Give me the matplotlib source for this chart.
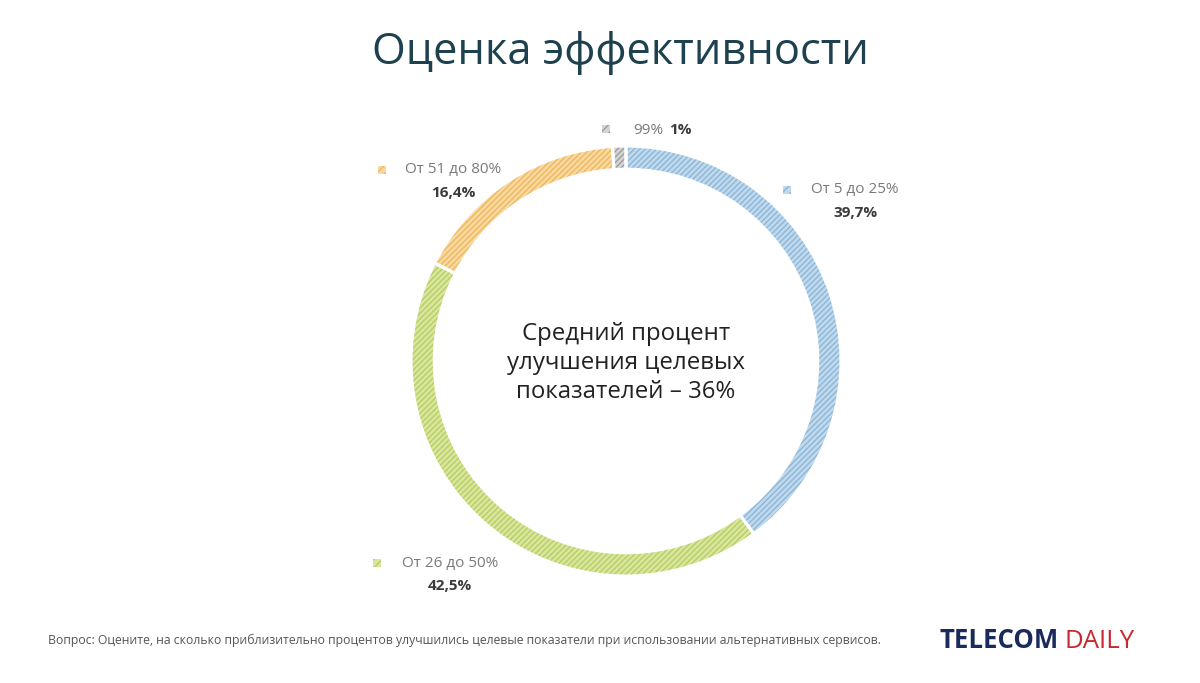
import matplotlib
matplotlib.use("Agg")
import matplotlib.pyplot as plt
from matplotlib.patches import Rectangle

plt.rcParams["font.family"] = ["Open Sans", "DejaVu Sans"]
plt.rcParams["hatch.linewidth"] = 1.0

# данные
labels = ["От 5 до 25%", "От 26 до 50%", "От 51 до 80%", "99%"]
values = [39.7, 42.5, 16.4, 1.0]
value_labels = ["39,7%", "42,5%", "16,4%", "1%"]
colors = ["#c0d9ec", "#d8e6a0", "#f9d9a2", "#d4d4d4"]
hatch_colors = ["#8cb7d8", "#b8ce60", "#efb85c", "#9e9e9e"]

W, H = 1200, 683
fig = plt.figure(figsize=(W / 100, H / 100), dpi=100)
fig.patch.set_facecolor("white")


def px(x, y):
    return x / W, 1 - y / H


# кольцевая диаграмма
cx, cy, r = 626, 361, 215
ax = fig.add_axes([(cx - r) / W, 1 - (cy + r) / H, 2 * r / W, 2 * r / H])
wedges, _ = ax.pie(values, colors=colors, startangle=90, counterclock=False,
                   wedgeprops=dict(width=0.108, linewidth=0))
for w, hc in zip(wedges, hatch_colors):
    w.set_hatch("//////")
    w.set_edgecolor(hc)
    w.set_linewidth(0)
outline, _ = ax.pie(values, colors=["none"] * len(values), startangle=90, counterclock=False,
                    wedgeprops=dict(width=0.108, linewidth=2.2, edgecolor="white"))
ax.set_xlim(-1, 1)
ax.set_ylim(-1, 1)
ax.set_aspect("equal")
ax.axis("off")

# подписи сегментов: (маркер x, y, центр текста x)
label_pos = [(787, 190, 855), (377, 563, 450), (382, 170, 453)]
for i, (mx, my, tx) in enumerate(label_pos):
    m = Rectangle(px(mx - 4, my + 4), 8 / W, 8 / H, transform=fig.transFigure,
                  facecolor=colors[i], edgecolor=hatch_colors[i], hatch="////", linewidth=0)
    fig.patches.append(m)
    fig.text(*px(tx, my), labels[i], ha="center", va="center", fontsize=11, color="#7a7a7a")
    fig.text(*px(tx, my + 23), value_labels[i], ha="center", va="center", fontsize=11,
             color="#3a3a3a", fontweight="bold")

m = Rectangle(px(602, 133), 8 / W, 8 / H, transform=fig.transFigure,
              facecolor=colors[3], edgecolor=hatch_colors[3], hatch="////", linewidth=0)
fig.patches.append(m)
fig.text(*px(633, 130), labels[3], ha="left", va="center", fontsize=11, color="#7a7a7a")
fig.text(*px(669, 130), value_labels[3], ha="left", va="center", fontsize=11,
         color="#3a3a3a", fontweight="bold")

# центр
fig.text(*px(626, 363), "Средний процент\nулучшения целевых\nпоказателей – 36%",
         ha="center", va="center", fontsize=17.3, color="#222222", linespacing=1.3)

# заголовок
fig.text(*px(620, 53), "Оценка эффективности", ha="center", va="center",
         fontsize=31.3, color="#1e4150")

# подвал
fig.text(*px(48, 640), "Вопрос: Оцените, на сколько приблизительно процентов улучшились целевые "
         "показатели при использовании альтернативных сервисов.",
         ha="left", va="center", fontsize=8.85, color="#555555")
t1 = fig.text(*px(940, 641), "TELECOM", ha="left", va="center", fontsize=18.5,
              color="#1b2a5c", fontweight="bold")
fig.canvas.draw()
bb = t1.get_window_extent()
fig.text((bb.x1 + 5) / W, 1 - 641 / H, "DAILY", ha="left", va="center", fontsize=18.5,
         color="#c9282f")

fig.savefig("out.png", dpi=100)
